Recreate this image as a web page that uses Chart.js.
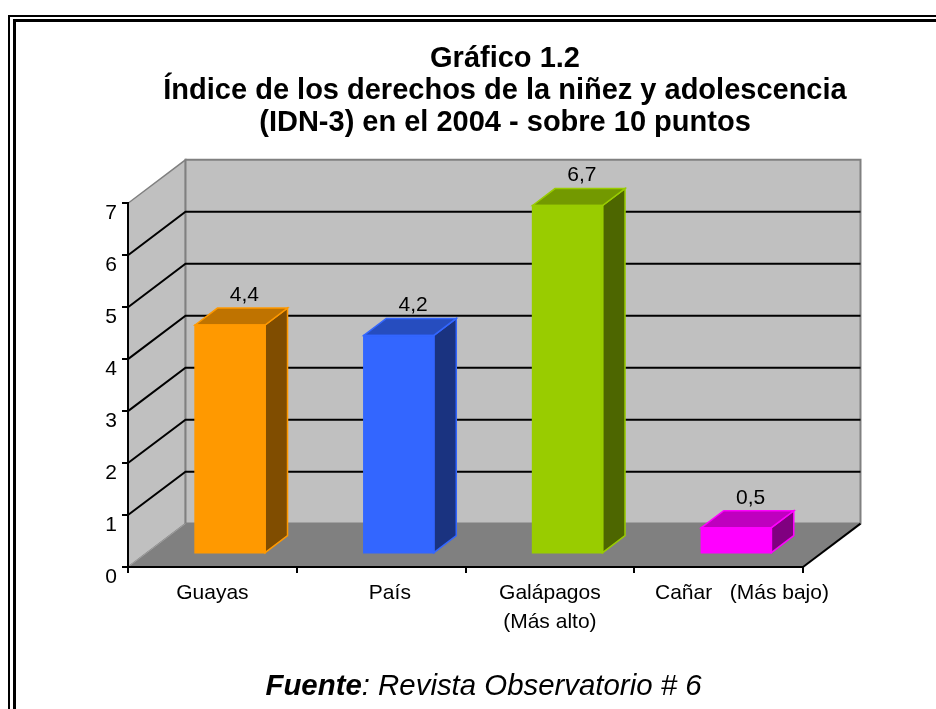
<!DOCTYPE html>
<html>
<head>
<meta charset="utf-8">
<script src="https://cdn.jsdelivr.net/npm/chart.js@4.4.0/dist/chart.umd.min.js"></script>
<style>
  html, body { margin: 0; padding: 0; background: #fff; }
  #wrap { position: relative; width: 936px; height: 709px; overflow: hidden; }
  #fuente {
    position: absolute; left: 0; width: 967px; top: 668px;
    text-align: center; color: #000;
    font: italic 29.4px 'Liberation Sans', Arial, sans-serif;
  }
</style>
</head>
<body>
<div id="wrap">
  <canvas id="c" width="936" height="709"></canvas>
  <div id="fuente"><b>Fuente</b>: Revista Observatorio # 6</div>
</div>
<script>
const titleLines = ['Gráfico 1.2', 'Índice de los derechos de la niñez y adolescencia', '(IDN-3) en el 2004 - sobre 10 puntos'];
const categories = ['Guayas', '   País', ['Galápagos', '(Más alto)'], '        Cañar   (Más bajo)'];
const values = [4.4, 4.2, 6.7, 0.5];
const barColors = ['#FF9900', '#3366FF', '#99CC00', '#FF00FF'];
const yTicks = [0, 1, 2, 3, 4, 5, 6, 7];

const FONT = "'Liberation Sans', Arial, sans-serif";
// depth of the fake 3d box
const DX = 57.5, DY = -43.4;
const BAR_FRONT = 0.308, BAR_DEPTH = 0.39;

function shade(hex, k) {
  const n = parseInt(hex.slice(1), 16);
  const r = Math.round(((n >> 16) & 255) * k);
  const g = Math.round(((n >> 8) & 255) * k);
  const b = Math.round((n & 255) * k);
  return 'rgb(' + r + ',' + g + ',' + b + ')';
}

function poly(ctx, pts, fill, stroke, lw) {
  ctx.beginPath();
  ctx.moveTo(pts[0][0], pts[0][1]);
  for (let i = 1; i < pts.length; i++) ctx.lineTo(pts[i][0], pts[i][1]);
  ctx.closePath();
  if (fill) { ctx.fillStyle = fill; ctx.fill(); }
  if (stroke) { ctx.strokeStyle = stroke; ctx.lineWidth = lw || 1; ctx.stroke(); }
}

function line(ctx, pts, color, lw) {
  ctx.beginPath();
  ctx.moveTo(pts[0][0], pts[0][1]);
  for (let i = 1; i < pts.length; i++) ctx.lineTo(pts[i][0], pts[i][1]);
  ctx.strokeStyle = color;
  ctx.lineWidth = lw;
  ctx.stroke();
}

const box3d = {
  id: 'box3d',
  beforeDraw(chart) {
    const ctx = chart.ctx;
    const a = chart.chartArea;
    const y = chart.scales.y;
    ctx.save();
    // double frame
    ctx.strokeStyle = '#000';
    ctx.lineWidth = 2;
    ctx.strokeRect(9, 16, 1000, 1000);
    ctx.lineWidth = 3;
    ctx.strokeRect(14.5, 20.5, 1000, 1000);

    const L = a.left, R = a.right, T = a.top, B = a.bottom;
    // side wall, back wall, floor
    poly(ctx, [[L, B], [L, T], [L + DX, T + DY], [L + DX, B + DY]], '#C0C0C0', '#808080', 1.5);
    poly(ctx, [[L + DX, T + DY], [R + DX, T + DY], [R + DX, B + DY], [L + DX, B + DY]], '#C0C0C0', '#808080', 2);
    poly(ctx, [[L, B], [L + DX, B + DY], [R + DX, B + DY], [R, B]], '#808080', null);
    line(ctx, [[L, B], [L + DX, B + DY]], '#A0A0A0', 1);

    // gridlines on the walls
    yTicks.forEach(v => {
      if (v <= y.min || v >= y.max) return;
      const py = y.getPixelForValue(v);
      line(ctx, [[L, py], [L + DX, py + DY], [R + DX, py + DY]], '#000', 2);
    });
    line(ctx, [[R, B], [R + DX, B + DY]], '#000', 2);
    ctx.restore();
  },
  beforeDatasetsDraw(chart) {
    chart.ctx.save();
    chart.ctx.translate(DX * BAR_FRONT, DY * BAR_FRONT);
  },
  afterDatasetsDraw(chart) {
    const ctx = chart.ctx;
    ctx.restore();
    ctx.save();
    const meta = chart.getDatasetMeta(0);
    const ox = DX * BAR_FRONT, oy = DY * BAR_FRONT;
    const dx = DX * BAR_DEPTH, dy = DY * BAR_DEPTH;
    meta.data.forEach((bar, i) => {
      const p = bar.getProps(['x', 'y', 'base', 'width'], true);
      const l = p.x - p.width / 2 + ox, r = p.x + p.width / 2 + ox;
      const t = p.y + oy, b = p.base + oy;
      const c = barColors[i];
      poly(ctx, [[r, t], [r + dx, t + dy], [r + dx, b + dy], [r, b]], shade(c, 0.5), c, 1.5);
      poly(ctx, [[l, t], [l + dx, t + dy], [r + dx, t + dy], [r, t]], shade(c, 0.75), c, 1.5);
      poly(ctx, [[l, t], [r, t], [r, b], [l, b]], null, c, 1.5);
      ctx.fillStyle = '#000';
      ctx.font = '21px ' + FONT;
      ctx.textAlign = 'center';
      ctx.textBaseline = 'middle';
      ctx.fillText(String(values[i]).replace('.', ','), (l + r) / 2 + dx / 2 + 3, t + dy - 13);
    });
    ctx.restore();
  }
};

new Chart(document.getElementById('c'), {
  type: 'bar',
  data: {
    labels: categories,
    datasets: [{
      data: values,
      backgroundColor: barColors,
      borderColor: barColors,
      borderWidth: 0,
      barPercentage: 0.415,
      categoryPercentage: 1
    }]
  },
  options: {
    responsive: false,
    animation: false,
    devicePixelRatio: 1,
    layout: { padding: { left: 74, right: 0, top: 0, bottom: 62 } },
    plugins: {
      legend: { display: false },
      tooltip: { enabled: false },
      title: {
        display: true,
        text: titleLines,
        color: '#000',
        font: { family: FONT, size: 29, weight: 'bold', lineHeight: 1.103 },
        padding: { top: 43, bottom: 64.3 }
      }
    },
    scales: {
      x: {
        grid: { drawOnChartArea: false, drawTicks: true, tickLength: 6, color: '#000', lineWidth: 2, offset: true },
        border: { display: true, color: '#000', width: 2 },
        ticks: { color: '#000', font: { family: FONT, size: 21, lineHeight: 1.38 }, padding: 6, maxRotation: 0, autoSkip: false },
        afterFit(s) { s.height = 80; }
      },
      y: {
        min: 0,
        max: 7,
        afterBuildTicks(s) { s.ticks = yTicks.map(v => ({ value: v })); },
        grid: { drawOnChartArea: false, drawTicks: true, tickLength: 6, color: '#000', lineWidth: 2 },
        border: { display: true, color: '#000', width: 2 },
        ticks: { color: '#000', font: { family: FONT, size: 21 }, padding: 5, labelOffset: 10 },
        afterFit(s) { s.width = 54; }
      },
      // empty right-hand box that keeps room for the 3d depth
      y2: {
        position: 'right',
        grid: { display: false },
        border: { display: false },
        ticks: { display: false },
        afterFit(s) { s.width = 133; }
      }
    }
  },
  plugins: [box3d]
});
</script>
</body>
</html>
